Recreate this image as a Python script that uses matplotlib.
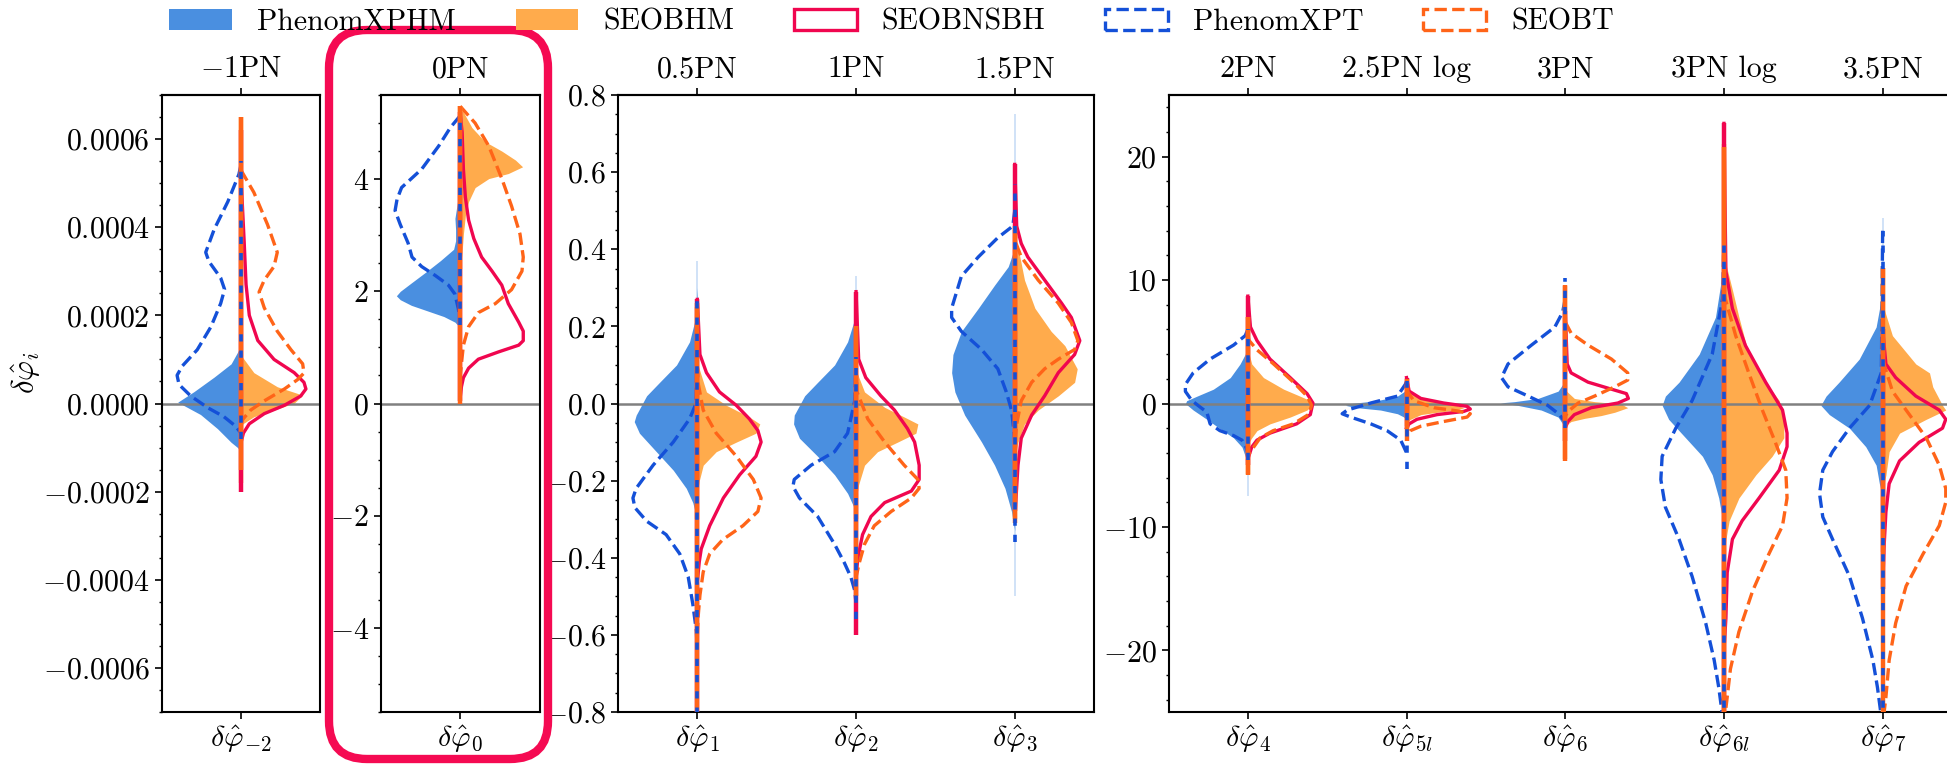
import numpy as np
import matplotlib
matplotlib.use('Agg')
import matplotlib.pyplot as plt
from matplotlib.patches import Patch, FancyBboxPatch
from matplotlib.ticker import AutoMinorLocator, FuncFormatter, MultipleLocator

plt.rcParams['font.family'] = 'serif'
plt.rcParams['font.serif'] = ['cmr10']
plt.rcParams['mathtext.fontset'] = 'cm'
plt.rcParams['axes.formatter.use_mathtext'] = True
plt.rcParams['font.size'] = 21.5

# PN coefficients, grouped into panels
coeffs = ['-2', '0', '1', '2', '3', '4', '5l', '6', '6l', '7']
pn_labels = {'-2': r'$-$1PN', '0': '0PN', '1': '0.5PN', '2': '1PN', '3': '1.5PN',
             '4': '2PN', '5l': '2.5PN log', '6': '3PN', '6l': '3PN log', '7': '3.5PN'}
panels = [['-2'], ['0'], ['1', '2', '3'], ['4', '5l', '6', '6l', '7']]
ylims = [0.0007, 5.5, 0.8, 25]
ymajor = [0.0002, 2, 0.2, 10]

# violin half-profiles: [value, relative half-width]
xphm = {
    '-2': [[0.00013, 0], [0.00009, 0.15], [0.00006, 0.41], [0.000027, 0.72], [0.000003, 0.97],
           [-0.000025, 0.62], [-0.000057, 0.36], [-0.000088, 0.15], [-0.0001, 0.05], [-0.00011, 0]],
    '0': [[3.8, 0], [3.6, 0.04], [3.3, 0.08], [3.1, 0.07], [2.9, 0.07], [2.75, 0.1], [2.55, 0.3],
          [2.35, 0.52], [2.15, 0.75], [2.0, 0.92], [1.92, 0.98], [1.85, 0.92], [1.75, 0.75],
          [1.65, 0.5], [1.55, 0.25], [1.45, 0.08], [1.35, 0]],
    '1': [[0.3, 0], [0.22, 0.03], [0.16, 0.12], [0.10, 0.32], [0.055, 0.58], [0.02, 0.78],
          [-0.03, 0.94], [-0.047, 0.97], [-0.077, 0.89], [-0.125, 0.63], [-0.173, 0.37],
          [-0.22, 0.17], [-0.257, 0.07], [-0.29, 0.02], [-0.32, 0]],
    '2': [[0.28, 0], [0.22, 0.02], [0.16, 0.13], [0.10, 0.33], [0.055, 0.59], [0.02, 0.79],
          [-0.03, 0.95], [-0.053, 0.96], [-0.09, 0.87], [-0.137, 0.59], [-0.185, 0.33],
          [-0.233, 0.13], [-0.27, 0.03], [-0.3, 0]],
    '3': [[0.45, 0], [0.40, 0.01], [0.355, 0.1], [0.307, 0.31], [0.247, 0.56], [0.187, 0.82],
          [0.127, 0.95], [0.08, 0.97], [0.03, 0.92], [-0.03, 0.77], [-0.1, 0.51], [-0.16, 0.31],
          [-0.22, 0.15], [-0.28, 0.05], [-0.33, 0]],
    '4': [[4.6, 0], [4.0, 0.04], [3.2, 0.12], [2.1, 0.27], [1.16, 0.53], [0.6, 0.78], [0.23, 0.94],
          [0.0, 0.96], [-0.53, 0.84], [-1.28, 0.63], [-2.03, 0.43], [-2.78, 0.22], [-3.53, 0.09],
          [-4.28, 0.04], [-4.9, 0]],
    '5l': [[1.2, 0], [1.0, 0.03], [0.6, 0.14], [0.23, 0.45], [0.0, 0.86], [-0.15, 0.94],
           [-0.34, 0.76], [-0.53, 0.4], [-0.83, 0.14], [-1.1, 0.04], [-1.35, 0]],
    '6': [[2.0, 0], [1.7, 0.02], [1.0, 0.11], [0.41, 0.42], [0.15, 0.78], [0.05, 1.0],
          [-0.15, 0.73], [-0.53, 0.37], [-1.1, 0.11], [-1.65, 0.04], [-2.0, 0]],
    '6l': [[11.5, 0], [10.7, 0.02], [7.0, 0.13], [4.0, 0.38], [1.73, 0.69], [0.6, 0.9],
           [-0.15, 0.95], [-1.28, 0.85], [-2.78, 0.59], [-4.28, 0.33], [-5.78, 0.18],
           [-7.66, 0.08], [-9.16, 0.03], [-10.5, 0]],
    '7': [[9.0, 0], [8.5, 0.02], [6.2, 0.1], [3.6, 0.36], [1.73, 0.67], [0.6, 0.87], [-0.15, 0.95],
          [-0.9, 0.82], [-2.0, 0.51], [-3.5, 0.26], [-5.0, 0.1], [-6.5, 0.05], [-7.5, 0]],
}
seobhm = {
    '-2': [[0.00011, 0], [0.00007, 0.2], [0.000038, 0.56], [0.000019, 0.95], [0.000001, 0.82],
           [-0.000015, 0.51], [-0.00003, 0.2], [-0.000046, 0.03], [-0.00006, 0]],
    '0': [[5.3, 0], [4.92, 0.18], [4.67, 0.38], [4.5, 0.64], [4.34, 0.85], [4.22, 0.96], [4.1, 0.74],
          [4.01, 0.44], [3.85, 0.23], [3.6, 0.13], [3.35, 0.08], [3.02, 0.05], [2.7, 0.03], [2.4, 0]],
    '1': [[0.12, 0], [0.10, 0.01], [0.03, 0.14], [-0.005, 0.45], [-0.035, 0.8], [-0.053, 0.96],
          [-0.077, 0.9], [-0.1, 0.6], [-0.125, 0.29], [-0.16, 0.09], [-0.2, 0.03], [-0.23, 0]],
    '2': [[0.11, 0], [0.08, 0.015], [0.03, 0.13], [-0.01, 0.44], [-0.035, 0.74], [-0.053, 0.95],
          [-0.077, 0.92], [-0.1, 0.64], [-0.125, 0.33], [-0.16, 0.13], [-0.21, 0.04], [-0.25, 0]],
    '3': [[0.46, 0], [0.43, 0.02], [0.32, 0.15], [0.247, 0.31], [0.187, 0.56], [0.15, 0.77],
          [0.115, 0.88], [0.09, 0.96], [0.055, 0.92], [0.02, 0.67], [-0.017, 0.36], [-0.053, 0.15],
          [-0.1, 0.05], [-0.14, 0]],
    '4': [[4.4, 0], [4.0, 0.02], [3.2, 0.06], [2.1, 0.24], [1.16, 0.55], [0.6, 0.8], [0.23, 0.96],
          [0.0, 0.98], [-0.53, 0.91], [-1.1, 0.65], [-1.65, 0.34], [-2.2, 0.14], [-2.78, 0.06],
          [-3.3, 0]],
    '5l': [[1.4, 0], [1.16, 0.02], [0.6, 0.16], [0.23, 0.42], [-0.08, 0.73], [-0.34, 0.88],
           [-0.53, 0.78], [-0.71, 0.47], [-0.9, 0.22], [-1.28, 0.06], [-1.55, 0]],
    '6': [[1.5, 0], [1.0, 0.02], [0.41, 0.14], [0.15, 0.45], [-0.04, 0.86], [-0.34, 0.96],
          [-0.71, 0.76], [-0.98, 0.55], [-1.2, 0.3], [-1.46, 0.09], [-1.8, 0]],
    '6l': [[12.0, 0], [11.5, 0.02], [9.2, 0.13], [7.0, 0.23], [4.0, 0.38], [1.73, 0.64], [0.23, 0.85],
           [-1.28, 0.92], [-2.78, 0.92], [-4.28, 0.74], [-5.78, 0.49], [-7.66, 0.23], [-9.5, 0.08],
           [-11.0, 0.03], [-12.5, 0]],
    '7': [[8.2, 0], [7.7, 0.02], [5.5, 0.15], [3.2, 0.51], [2.48, 0.72], [1.35, 0.77], [-0.15, 0.92],
          [-0.53, 0.97], [-1.28, 0.67], [-2.4, 0.26], [-3.9, 0.1], [-5.8, 0.05], [-7.0, 0]],
}
seobnsbh = {
    '-2': [[0.00052, 0], [0.00037, 0.05], [0.00027, 0.08], [0.0002, 0.13], [0.000143, 0.26],
           [0.0001, 0.51], [0.00007, 0.82], [0.000048, 0.97], [0.000033, 1.0], [0.000017, 0.92],
           [-0.000004, 0.67], [-0.000023, 0.36], [-0.000046, 0.13], [-0.000067, 0.04], [-0.00009, 0]],
    '0': [[5.17, 0], [4.84, 0.03], [4.18, 0.05], [3.68, 0.08], [3.27, 0.13], [2.94, 0.21], [2.61, 0.33],
          [2.36, 0.49], [2.11, 0.64], [1.78, 0.74], [1.45, 0.9], [1.29, 0.97], [1.12, 0.97], [1.04, 0.9],
          [0.92, 0.59], [0.79, 0.28], [0.63, 0.13], [0.46, 0.05], [0.3, 0.02], [0.1, 0]],
    '1': [[0.27, 0], [0.127, 0.04], [0.08, 0.14], [0.03, 0.34], [-0.005, 0.6], [-0.04, 0.8],
          [-0.07, 0.93], [-0.1, 0.98], [-0.137, 0.9], [-0.185, 0.65], [-0.245, 0.4], [-0.317, 0.19],
          [-0.377, 0.06], [-0.41, 0.03], [-0.46, 0]],
    '2': [[0.29, 0], [0.115, 0.04], [0.067, 0.15], [0.02, 0.38], [-0.017, 0.59], [-0.065, 0.79],
          [-0.1, 0.9], [-0.16, 0.97], [-0.197, 0.97], [-0.227, 0.85], [-0.257, 0.44], [-0.293, 0.23],
          [-0.34, 0.1], [-0.39, 0.04], [-0.44, 0]],
    '3': [[0.62, 0], [0.46, 0.03], [0.415, 0.1], [0.38, 0.2], [0.32, 0.46], [0.26, 0.72], [0.223, 0.87],
          [0.163, 1.0], [0.127, 0.92], [0.08, 0.67], [0.02, 0.46], [-0.03, 0.26], [-0.09, 0.1],
          [-0.16, 0.05], [-0.257, 0.015], [-0.3, 0]],
    '4': [[8.7, 0], [6.2, 0.04], [5.1, 0.14], [3.6, 0.34], [2.1, 0.65], [0.8, 0.91], [0.04, 1.0],
          [-0.9, 0.96], [-1.65, 0.75], [-2.4, 0.34], [-2.97, 0.14], [-3.53, 0.06], [-4.5, 0]],
    '5l': [[2.1, 0], [1.0, 0.04], [0.41, 0.22], [0.04, 0.57], [-0.23, 0.93], [-0.45, 0.98],
           [-0.64, 0.88], [-0.9, 0.47], [-1.28, 0.16], [-1.65, 0.04], [-2.0, 0]],
    '6': [[7.4, 0], [3.2, 0.03], [2.48, 0.09], [1.73, 0.35], [1.16, 0.71], [0.8, 0.94], [0.41, 0.97],
          [0.04, 0.81], [-0.34, 0.4], [-0.9, 0.14], [-1.46, 0.04], [-2.0, 0]],
    '6l': [[22.7, 0], [10.7, 0.03], [7.7, 0.13], [4.7, 0.33], [1.73, 0.64], [-0.53, 0.9], [-2.4, 0.97],
           [-3.5, 0.97], [-5.4, 0.85], [-7.66, 0.54], [-9.5, 0.28], [-11.0, 0.13], [-13.7, 0.05],
           [-17.4, 0.03], [-20.0, 0]],
    '7': [[6.0, 0], [3.2, 0.05], [2.1, 0.2], [0.6, 0.51], [-0.53, 0.87], [-1.28, 0.97], [-2.0, 0.92],
          [-3.15, 0.56], [-4.65, 0.26], [-6.5, 0.1], [-8.8, 0.05], [-11.8, 0.02], [-15.0, 0]],
}
xpt = {
    '-2': [[0.00054, 0], [0.00052, 0.03], [0.000458, 0.2], [0.000395, 0.41], [0.000343, 0.54],
           [0.000322, 0.49], [0.000285, 0.31], [0.000259, 0.25], [0.000227, 0.31], [0.000174, 0.46],
           [0.000122, 0.67], [0.000085, 0.9], [0.000064, 0.98], [0.000043, 0.95], [0.000017, 0.77],
           [-0.0000095, 0.51], [-0.00003, 0.26], [-0.0000515, 0.08], [-0.000067, 0]],
    '0': [[5.13, 0], [4.92, 0.15], [4.59, 0.33], [4.18, 0.59], [3.85, 0.9], [3.64, 0.97], [3.44, 1.0],
          [3.19, 0.92], [2.86, 0.8], [2.61, 0.74], [2.44, 0.59], [2.28, 0.38], [2.11, 0.18],
          [1.95, 0.08], [1.7, 0.03], [1.5, 0]],
    '1': [[0.27, 0], [0.1, 0.01], [0.0, 0.02], [-0.04, 0.12], [-0.1, 0.37], [-0.16, 0.68],
          [-0.22, 0.94], [-0.245, 0.99], [-0.27, 0.96], [-0.305, 0.78], [-0.34, 0.48], [-0.39, 0.27],
          [-0.45, 0.14], [-0.52, 0.07], [-0.59, 0.015], [-0.65, 0]],
    '2': [[0.12, 0], [0.007, 0.02], [-0.077, 0.13], [-0.125, 0.33], [-0.16, 0.69], [-0.197, 0.95],
          [-0.215, 0.97], [-0.245, 0.87], [-0.293, 0.59], [-0.365, 0.33], [-0.413, 0.18],
          [-0.45, 0.08], [-0.485, 0.02], [-0.52, 0]],
    '3': [[0.5, 0], [0.46, 0.03], [0.43, 0.26], [0.38, 0.56], [0.33, 0.82], [0.247, 0.97],
          [0.223, 0.97], [0.187, 0.82], [0.14, 0.51], [0.09, 0.26], [0.03, 0.13], [-0.017, 0.05],
          [-0.077, 0.01], [-0.1, 0]],
    '4': [[6.0, 0], [5.5, 0.04], [4.73, 0.22], [3.6, 0.58], [2.48, 0.84], [1.54, 0.96], [0.98, 0.96],
          [0.23, 0.86], [-0.71, 0.63], [-1.65, 0.58], [-2.2, 0.43], [-2.6, 0.22], [-2.97, 0.09],
          [-3.53, 0.03], [-4.0, 0]],
    '5l': [[1.8, 0], [1.54, 0.02], [0.6, 0.14], [0.04, 0.55], [-0.53, 0.91], [-0.83, 0.99],
           [-1.1, 0.86], [-1.65, 0.55], [-2.2, 0.3], [-2.97, 0.09], [-3.53, 0.04], [-4.0, 0]],
    '6': [[8.5, 0], [7.4, 0.04], [6.2, 0.16], [4.73, 0.52], [3.2, 0.88], [2.1, 0.98], [1.35, 0.88],
          [0.6, 0.57], [-0.15, 0.27], [-0.9, 0.09], [-1.5, 0]],
    '6l': [[13.5, 0], [8.5, 0.02], [4.0, 0.18], [0.23, 0.49], [-2.0, 0.74], [-4.28, 0.95],
           [-6.16, 0.97], [-8.4, 0.9], [-11.0, 0.69], [-14.0, 0.49], [-17.8, 0.28], [-20.8, 0.15],
           [-23.0, 0.08], [-25.0, 0.03], [-26.0, 0]],
    '7': [[14.0, 0], [2.5, 0.02], [-0.15, 0.2], [-2.0, 0.51], [-3.9, 0.77], [-5.4, 0.92], [-7.3, 0.97],
          [-9.2, 0.92], [-11.0, 0.77], [-14.0, 0.51], [-17.4, 0.31], [-20.8, 0.15], [-23.0, 0.08],
          [-25.0, 0.03], [-26.0, 0]],
}
seobt = {
    '-2': [[0.00053, 0], [0.000479, 0.2], [0.000406, 0.41], [0.000343, 0.56], [0.000311, 0.51],
           [0.00028, 0.36], [0.000253, 0.28], [0.000217, 0.36], [0.000164, 0.56], [0.000122, 0.77],
           [0.00009, 0.95], [0.000069, 0.97], [0.000054, 0.87], [0.000033, 0.67], [0.000006, 0.36],
           [-0.000015, 0.15], [-0.000036, 0.03], [-0.000046, 0]],
    '0': [[5.3, 0], [5.0, 0.23], [4.59, 0.44], [4.01, 0.64], [3.52, 0.79], [3.02, 0.92], [2.61, 0.97],
          [2.36, 0.95], [2.03, 0.79], [1.78, 0.54], [1.62, 0.28], [1.37, 0.13], [1.04, 0.05],
          [0.71, 0.02], [0.5, 0]],
    '1': [[0.1, 0], [0.055, 0.01], [-0.017, 0.09], [-0.077, 0.29], [-0.137, 0.6], [-0.197, 0.86],
          [-0.245, 0.98], [-0.28, 0.93], [-0.317, 0.7], [-0.353, 0.39], [-0.39, 0.19], [-0.437, 0.09],
          [-0.497, 0.04], [-0.557, 0.01], [-0.6, 0]],
    '2': [[0.1, 0], [0.03, 0.015], [-0.04, 0.18], [-0.1, 0.44], [-0.16, 0.74], [-0.197, 0.95],
          [-0.22, 0.97], [-0.245, 0.85], [-0.28, 0.54], [-0.317, 0.28], [-0.365, 0.13], [-0.413, 0.05],
          [-0.45, 0]],
    '3': [[0.46, 0], [0.415, 0.02], [0.38, 0.1], [0.32, 0.36], [0.26, 0.67], [0.21, 0.87], [0.163, 0.97],
          [0.14, 0.92], [0.115, 0.67], [0.09, 0.46], [0.055, 0.26], [0.007, 0.1], [-0.053, 0.03],
          [-0.1, 0]],
    '4': [[5.5, 0], [5.1, 0.02], [4.35, 0.14], [3.23, 0.39], [1.73, 0.7], [0.6, 0.91], [-0.15, 0.98],
          [-0.9, 0.93], [-1.65, 0.7], [-2.2, 0.39], [-2.78, 0.19], [-3.53, 0.09], [-4.2, 0]],
    '5l': [[1.2, 0], [1.0, 0.01], [0.23, 0.11], [-0.34, 0.42], [-0.6, 0.78], [-0.83, 0.98],
           [-1.1, 0.93], [-1.46, 0.57], [-1.84, 0.22], [-2.2, 0.06], [-2.6, 0]],
    '6': [[6.6, 0], [6.4, 0.02], [5.7, 0.09], [4.73, 0.35], [3.6, 0.71], [2.48, 0.96], [1.9, 0.96],
          [1.35, 0.76], [0.6, 0.45], [0.04, 0.2], [-0.53, 0.07], [-1.0, 0]],
    '6l': [[9.0, 0], [8.5, 0.02], [5.5, 0.18], [2.5, 0.38], [-0.53, 0.59], [-3.15, 0.79], [-5.4, 0.95],
           [-7.66, 0.97], [-9.9, 0.9], [-12.2, 0.69], [-15.2, 0.44], [-18.5, 0.23], [-21.5, 0.1],
           [-23.8, 0.05], [-26.0, 0]],
    '7': [[3.5, 0], [3.2, 0.02], [1.0, 0.15], [-0.53, 0.36], [-2.78, 0.67], [-5.0, 0.87], [-6.9, 0.97],
          [-8.0, 0.97], [-9.9, 0.87], [-12.2, 0.62], [-14.8, 0.36], [-17.8, 0.2], [-20.8, 0.1],
          [-23.8, 0.05], [-26.0, 0]],
}

# posterior extents (min, max) shown by the central bars, same order as coeffs
xphm_range = [(-0.00012, 0.00015), (1.3, 3.9), (-0.45, 0.37), (-0.4, 0.33), (-0.5, 0.75),
              (-7.5, 4.5), (-1.8, 1.8), (-2.5, 2.5), (-14, 14), (-10, 15)]
seobhm_range = [(-0.00018, 0.00065), (2.4, 5.3), (-0.3, 0.25), (-0.3, 0.2), (-0.3, 0.45),
                (-5.7, 7.0), (-1.8, 1.5), (-4.5, 9.5), (-26, 21), (-12, 11)]
seobnsbh_range = [(-0.0002, 0.00062), (0.05, 5.2), (-0.85, 0.27), (-0.6, 0.29), (-0.28, 0.62),
                  (-5.0, 8.7), (-2.0, 2.1), (-3.0, 7.5), (-26, 22.7), (-15, 6)]
xpt_range = [(-0.00008, 0.00055), (1.4, 5.15), (-0.85, 0.28), (-0.56, 0.12), (-0.36, 0.57),
             (-4.6, 6.0), (-5.3, 1.8), (-2.0, 10.2), (-26, 13.5), (-26, 14)]
seobt_range = [(-0.00015, 0.00065), (0.0, 5.3), (-0.85, 0.26), (-0.5, 0.2), (-0.31, 0.46),
               (-5.8, 7.0), (-3.0, 2.0), (-4.7, 9.6), (-26, 20.8), (-26, 11)]

c_xphm = '#4a8fe0'
c_seobhm = '#ffab4c'
c_nsbh = '#f0064f'
c_xpt = '#1450d8'
c_seobt = '#ff6418'
HW = 0.41   # max half-width of a violin in axis units
LW = 2.4

fig = plt.figure(figsize=(19.47, 7.66), dpi=100)
W, H = 1947, 766
bottom, top = 712, 95
lefts = [161.5, 380.8, 618, 1168.5]
step = 158.7


def prof(d, k):
    a = np.array(d[k], dtype=float)
    return a[:, 0], a[:, 1] * HW


axes = []
for p, (names, ylim, maj) in enumerate(zip(panels, ylims, ymajor)):
    n = len(names)
    ax = fig.add_axes([lefts[p] / W, 1 - bottom / H, n * step / W, (bottom - top) / H])
    axes.append(ax)
    pos = np.arange(n)
    for x, k in zip(pos, names):
        i = coeffs.index(k)
        y, w = prof(xphm, k)
        ax.fill_betweenx(y, x, x - w, color=c_xphm, lw=0, zorder=1)
        y, w = prof(seobhm, k)
        ax.fill_betweenx(y, x, x + w, color=c_seobhm, lw=0, zorder=1)
        y, w = prof(seobnsbh, k)
        ax.plot(x + w, y, color=c_nsbh, lw=LW, zorder=3)
        y, w = prof(xpt, k)
        ax.plot(x - w, y, color=c_xpt, lw=LW, ls='--', zorder=3)
        y, w = prof(seobt, k)
        ax.plot(x + w, y, color=c_seobt, lw=LW, ls='--', zorder=3)

        ax.vlines(x, *xphm_range[i], color=c_xphm, lw=1.2, alpha=0.3, zorder=2)
        ax.vlines(x, *seobhm_range[i], color=c_seobhm, lw=3.2, zorder=4)
        ax.vlines(x, *seobnsbh_range[i], color=c_nsbh, lw=3.2, zorder=4)
        ax.vlines(x, *seobt_range[i], color=c_seobt, lw=3.2, zorder=4)
        ax.vlines(x, *xpt_range[i], color=c_xpt, lw=2.6, linestyles=(0, (2, 2.5)), zorder=5)

    ax.axhline(0, color='#808080', lw=1.8, zorder=1.5)
    ax.set_xlim(-0.5, n - 0.5)
    ax.set_ylim(-ylim, ylim)
    ax.set_xticks(pos)
    ax.set_xticklabels([r'$\delta\hat{\varphi}_{%s}$' % k for k in names])
    ax.yaxis.set_major_locator(MultipleLocator(maj))
    ax.yaxis.set_minor_locator(AutoMinorLocator())
    ax.tick_params(which='major', length=5, width=1.2, labelsize=21.5)
    ax.tick_params(which='minor', length=2.5, width=1.0)
    for s in ax.spines.values():
        s.set_linewidth(1.5)
    sec = ax.secondary_xaxis('top')
    sec.set_xticks(pos)
    sec.set_xticklabels([pn_labels[k] for k in names])
    sec.tick_params(length=5, width=1.2, labelsize=21.5)
    sec.spines['top'].set_linewidth(1.5)

axes[0].yaxis.set_major_formatter(FuncFormatter(lambda v, _: r'$%.4f$' % v))
axes[0].set_ylabel(r'$\delta\hat{\varphi}_i$', fontsize=22)
axes[0].yaxis.set_label_coords(-0.75, 0.55)

# highlight box around the 0PN panel
box = FancyBboxPatch((3.29, 0.07), 2.19, 7.29, boxstyle='round,pad=0,rounding_size=0.38',
                     transform=fig.dpi_scale_trans, fill=False, ec='#f50a52', lw=6, clip_on=False)
fig.add_artist(box)

handles = [
    Patch(facecolor=c_xphm, edgecolor='none', label='PhenomXPHM'),
    Patch(facecolor=c_seobhm, edgecolor='none', label='SEOBHM'),
    Patch(facecolor='none', edgecolor=c_nsbh, lw=LW, label='SEOBNSBH'),
    Patch(facecolor='none', edgecolor=c_xpt, lw=LW, ls='--', label='PhenomXPT'),
    Patch(facecolor='none', edgecolor=c_seobt, lw=LW, ls='--', label='SEOBT'),
]
fig.legend(handles=handles, loc='center', bbox_to_anchor=(0.458, 0.971), ncol=5, frameon=False,
           fontsize=21.5, handlelength=2.1, handleheight=0.7, handletextpad=0.84, columnspacing=2.0)

fig.savefig('out.png', dpi=100)
